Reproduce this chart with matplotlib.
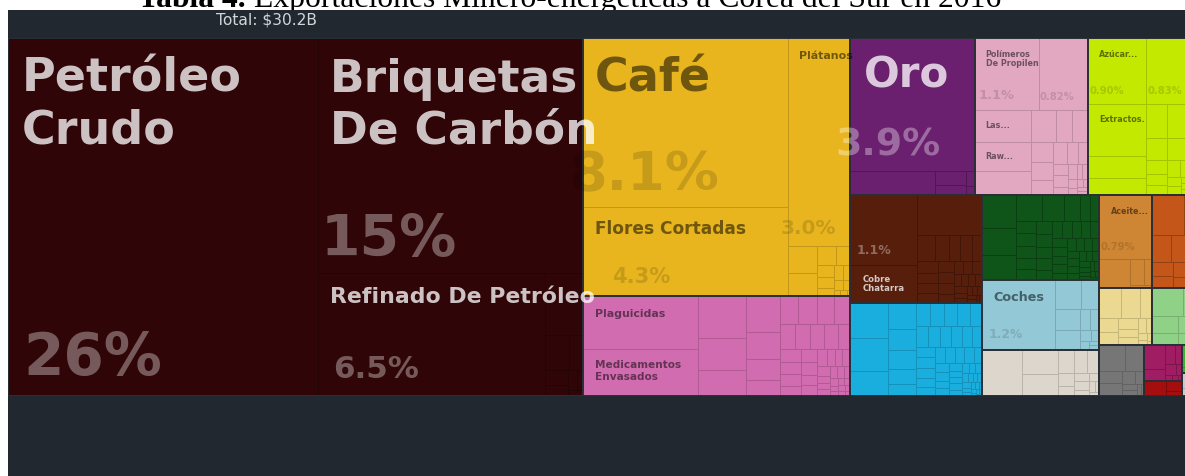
import matplotlib
matplotlib.use("Agg")
import matplotlib.pyplot as plt
from matplotlib.patches import Rectangle
from matplotlib.transforms import Bbox, TransformedBbox
from matplotlib.colors import to_rgb

W, H = 1185, 477
PX = 0.72  # pixels -> points at 100 dpi

# ---------------- data ----------------
titulo_negrita = "Tabla 4."
titulo_resto = "Exportaciones Minero-energéticas a Corea del Sur en 2016"
total_texto = "Total: $30.2B"

sector_claves = ["minerales", "vegetales", "quimicos", "preciosos", "plasticos",
                 "alimentos", "metales", "maquinas", "pieles", "transporte",
                 "piedra", "subproductos", "madera", "papel", "animales",
                 "instrumentos", "textiles", "armas", "calzado", "varios", "arte"]
sector_colores = ["#300507", "#E8B51F", "#D16CB0", "#6A1F6F", "#E2A8C2",
                  "#C3E900", "#571E0C", "#1AAEDE", "#0F5418", "#93C9D7",
                  "#DDD6CC", "#CF8634", "#C5561A", "#EBD991", "#8FD186",
                  "#767676", "#A11D63", "#A50E0E", "#3AB52B", "#C9C9C9", "#A58BC8"]

# product shares (% of total exports), per sector, largest first
minerales = [26.0, 14.6, 6.5, 0.55, 0.2, 0.12, 0.08, 0.06, 0.04, 0.03, 0.02]
vegetales = [8.1, 4.3, 3.0, 0.19, 0.16, 0.085, 0.06, 0.05, 0.04, 0.035, 0.03,
             0.025, 0.02, 0.015, 0.01, 0.01, 0.005]
quimicos = [1.41, 1.28, 0.46, 0.35, 0.29, 0.28, 0.22, 0.16, 0.13, 0.12, 0.115,
            0.11, 0.10, 0.09, 0.09, 0.08, 0.08, 0.07, 0.07, 0.06, 0.06, 0.05,
            0.05, 0.05, 0.04, 0.04, 0.04, 0.03, 0.03, 0.03, 0.03, 0.02, 0.02,
            0.02, 0.02, 0.02, 0.015, 0.015, 0.01, 0.01, 0.01, 0.01, 0.01,
            0.008, 0.006, 0.005]
preciosos = [3.9, 0.48, 0.10, 0.07, 0.03, 0.02]
plasticos = [1.1, 0.82, 0.42, 0.39, 0.32, 0.18, 0.12, 0.12, 0.10, 0.09, 0.08,
             0.07, 0.06, 0.05, 0.04, 0.04, 0.03, 0.03, 0.02, 0.02, 0.02, 0.015,
             0.01, 0.01, 0.01, 0.01]
alimentos = [0.90, 0.83, 0.70, 0.31, 0.23, 0.17, 0.15, 0.11, 0.11, 0.09, 0.08,
             0.07, 0.06, 0.05, 0.05, 0.04, 0.04, 0.03, 0.03, 0.02, 0.02, 0.02,
             0.01, 0.01]
metales = [1.1, 0.6, 0.6, 0.11, 0.08, 0.07, 0.07, 0.06, 0.06, 0.05, 0.05, 0.05,
           0.04, 0.04, 0.04, 0.03, 0.03, 0.03, 0.03, 0.02, 0.02, 0.02, 0.02,
           0.02, 0.015, 0.015, 0.01, 0.01, 0.01, 0.01, 0.008, 0.006, 0.005]
maquinas = [0.31, 0.30, 0.22, 0.17, 0.14, 0.12, 0.10, 0.08, 0.08, 0.075, 0.07,
            0.07, 0.065, 0.06, 0.06, 0.055, 0.05, 0.05, 0.05, 0.045, 0.045,
            0.045, 0.04, 0.04, 0.04, 0.035, 0.035, 0.035, 0.03, 0.03, 0.03,
            0.025, 0.025, 0.025, 0.02, 0.02, 0.02, 0.02, 0.015, 0.015, 0.015,
            0.012, 0.012, 0.01, 0.01, 0.01, 0.008, 0.008, 0.006, 0.006, 0.005,
            0.005, 0.004, 0.004, 0.003, 0.003]
pieles = [0.26, 0.22, 0.20, 0.155, 0.137, 0.097, 0.057, 0.055, 0.055, 0.055,
          0.055, 0.05, 0.05, 0.05, 0.05, 0.045, 0.045, 0.04, 0.04, 0.04, 0.035,
          0.035, 0.035, 0.03, 0.03, 0.03, 0.03, 0.025, 0.025, 0.025, 0.025,
          0.02, 0.02, 0.02, 0.02, 0.02, 0.015, 0.015, 0.015, 0.015, 0.01, 0.01,
          0.01, 0.01, 0.01, 0.008, 0.006, 0.005]
transporte = [1.2, 0.18, 0.12, 0.12, 0.11, 0.05, 0.04, 0.03, 0.02, 0.02, 0.01, 0.01]
piedra = [0.44, 0.20, 0.18, 0.09, 0.07, 0.06, 0.05, 0.04, 0.03, 0.03, 0.02,
          0.02, 0.015, 0.01, 0.01]
subproductos = [0.79, 0.22, 0.08, 0.05, 0.02]
madera = [0.30, 0.15, 0.12, 0.10, 0.08, 0.07, 0.06, 0.05, 0.04, 0.03, 0.02, 0.02, 0.01]
papel = [0.155, 0.127, 0.085, 0.065, 0.055, 0.05, 0.04, 0.035, 0.03, 0.02,
         0.015, 0.01, 0.01, 0.005]
animales = [0.2, 0.11, 0.1, 0.07, 0.05, 0.04, 0.03, 0.02, 0.01]
instrumentos = [0.16, 0.12, 0.07, 0.07, 0.04, 0.03, 0.02, 0.02, 0.01, 0.01]
textiles = [0.12, 0.06, 0.045, 0.03, 0.025, 0.015, 0.01, 0.01, 0.005]
armas = [0.075, 0.035, 0.02]
calzado = [0.055, 0.04, 0.015, 0.01]
varios = [0.04, 0.02]
arte = [0.025, 0.015]

# product names (first products of some sectors)
nombres = {
    "minerales": ["Petróleo\nCrudo", "Briquetas\nDe Carbón", "Refinado De Petróleo"],
    "vegetales": ["Café", "Flores Cortadas", "Plátanos"],
    "quimicos": ["Plaguicidas", "Medicamentos\nEnvasados"],
    "preciosos": ["Oro"],
    "plasticos": ["Polímeros\nDe Propileno", "", "Las...", "Raw..."],
    "alimentos": ["Azúcar...", "", "Extractos."],
    "metales": ["", "Cobre\nChatarra"],
    "transporte": ["Coches"],
    "subproductos": ["Aceite..."],
}

valores = [minerales, vegetales, quimicos, preciosos, plasticos, alimentos,
           metales, maquinas, pieles, transporte, piedra, subproductos, madera,
           papel, animales, instrumentos, textiles, armas, calzado, varios, arte]

# ---------------- label styles (pixel sizes / offsets inside a cell) ----------------
estilos = {
    ("minerales", 0): dict(nfs=46, ndx=14, ndy=53, lsp=51, pfs=58, pdx=15, pdy=22),
    ("minerales", 1): dict(nfs=45.5, ndx=12, ndy=53, lsp=51, pfs=57, pdx=2, pdy=18),
    ("minerales", 2): dict(nfs=22, ndx=12, ndy=29, lsp=0, pfs=31, pdx=15, pdy=19),
    ("vegetales", 0): dict(nfs=46, ndx=12, ndy=53, lsp=0, pfs=54, pdx=-13, pdy=18),
    ("vegetales", 1): dict(nfs=17, ndx=12, ndy=26, lsp=0, pfs=21, pdx=29, pdy=14),
    ("vegetales", 2): dict(nfs=11, ndx=11, ndy=20, lsp=0, pfs=20, pdx=-7, pdy=13),
    ("quimicos", 0): dict(nfs=11, ndx=12, ndy=20, lsp=0, pfs=None),
    ("quimicos", 1): dict(nfs=10.5, ndx=12, ndy=18, lsp=12.5, pfs=None),
    ("preciosos", 0): dict(nfs=42, ndx=14, ndy=48, lsp=0, pfs=38, pdx=-14, pdy=17),
    ("plasticos", 0): dict(nfs=8, ndx=11, ndy=18, lsp=8.5, pfs=13, pdx=4, pdy=12, clip=True),
    ("plasticos", 1): dict(nfs=8, ndx=11, ndy=18, lsp=0, pfs=10, pdx=0, pdy=11),
    ("plasticos", 2): dict(nfs=8, ndx=11, ndy=17, lsp=0, pfs=None),
    ("plasticos", 3): dict(nfs=8, ndx=11, ndy=16, lsp=0, pfs=None),
    ("alimentos", 0): dict(nfs=8, ndx=11, ndy=18, lsp=0, pfs=10, pdx=2, pdy=11),
    ("alimentos", 1): dict(nfs=8, ndx=11, ndy=18, lsp=0, pfs=10, pdx=1, pdy=11),
    ("alimentos", 2): dict(nfs=8, ndx=11, ndy=17, lsp=0, pfs=None),
    ("metales", 0): dict(nfs=8, ndx=7, ndy=16, lsp=0, pfs=12.5, pdx=7, pdy=12),
    ("metales", 1): dict(nfs=8.5, ndx=13, ndy=16, lsp=9.5, pfs=None),
    ("transporte", 0): dict(nfs=12.8, ndx=11, ndy=20, lsp=0, pfs=12.3, pdx=7, pdy=13),
    ("subproductos", 0): dict(nfs=8, ndx=12, ndy=18, lsp=0, pfs=10, pdx=2, pdy=10),
}

ANCHO, ALTO = 1192.0, 358.0   # full treemap (the picture crops its right edge)
PHI = (1 + 5 ** 0.5) / 2


def squarify(vals, x0, y0, x1, y1, ratio=PHI):
    """d3.treemapSquarify"""
    rects = [None] * len(vals)
    n = len(vals)
    i0 = i1 = 0
    value = float(sum(vals))
    while i0 < n:
        dx, dy = x1 - x0, y1 - y0
        sum_v = vals[i1]
        i1 += 1
        min_v = max_v = sum_v
        alpha = max(dy / dx, dx / dy) / (value * ratio)
        beta = sum_v * sum_v * alpha
        min_ratio = max(max_v / beta, beta / min_v)
        while i1 < n:
            v = vals[i1]
            sum_v += v
            min_v = min(min_v, v)
            max_v = max(max_v, v)
            beta = sum_v * sum_v * alpha
            new_ratio = max(max_v / beta, beta / min_v)
            if new_ratio > min_ratio:
                sum_v -= v
                break
            min_ratio = new_ratio
            i1 += 1
        fila = range(i0, i1)
        if dx < dy:
            ny = y0 + dy * sum_v / value if i1 < n else y1
            cx = x0
            for k in fila:
                w = dx * vals[k] / sum_v
                rects[k] = (cx, y0, w, ny - y0)
                cx += w
            y0 = ny
        else:
            nx = x0 + dx * sum_v / value if i1 < n else x1
            cy = y0
            for k in fila:
                h = dy * vals[k] / sum_v
                rects[k] = (x0, cy, nx - x0, h)
                cy += h
            x0 = nx
        value -= sum_v
        i0 = i1
    return rects


def pct(v):
    if v >= 10:
        return f"{v:.0f}%"
    if v >= 1:
        return f"{v:.1f}%"
    return f"{v:.2f}%"


def oscuro(c):
    r, g, b = to_rgb(c)
    return 0.299 * r + 0.587 * g + 0.114 * b < 0.45


def sombra(c, f=0.86):
    r, g, b = to_rgb(c)
    return (r * f, g * f, b * f)


# ---------------- figure ----------------
fig = plt.figure(figsize=(W / 100, H / 100), dpi=100, facecolor="white")

bg = fig.add_axes([0, 0, 1, 1])
bg.set_xlim(0, W)
bg.set_ylim(H, 0)
bg.axis("off")
bg.add_patch(Rectangle((8, 11), W, H, facecolor="#212830", edgecolor="none", zorder=2))
bg.text(266, 20, total_texto, ha="center", va="center", color="#D2D6DA",
        fontsize=15.5 * PX, family="DejaVu Sans", zorder=3)

# title: only its lower part shows, as in the source page
rend = fig.canvas.get_renderer()
t1 = bg.text(138, 7, titulo_negrita, ha="left", va="baseline", fontsize=31.6 * PX,
             family="Liberation Serif", fontweight="bold", color="black", zorder=1)
w1 = t1.get_window_extent(renderer=rend).width
bg.text(138 + w1 + 8, 7, titulo_resto, ha="left", va="baseline", fontsize=31.6 * PX,
        family="Liberation Serif", color="black", zorder=1)

ax = fig.add_axes([8 / W, (H - 397) / H, (W - 8) / W, ALTO / H])
ax.set_xlim(0, W - 8)
ax.set_ylim(ALTO, 0)
ax.axis("off")

totales = [sum(v) for v in valores]
orden = sorted(range(len(valores)), key=lambda i: -totales[i])
rect_sec = squarify([totales[i] for i in orden], 0, 0, ANCHO, ALTO)

celdas = {}
for pos, i in enumerate(orden):
    sx, sy, sw, sh = rect_sec[pos]
    col = sector_colores[i]
    hijos = squarify(valores[i], sx, sy, sx + sw, sy + sh)
    celdas[sector_claves[i]] = hijos
    for (cx, cy, cw, ch) in hijos:
        ax.add_patch(Rectangle((cx, cy), cw, ch, facecolor=col,
                               edgecolor=sombra(col, 0.84 if not oscuro(col) else 0.75),
                               linewidth=0.7))
    ax.add_patch(Rectangle((sx, sy), sw, sh, fill=False, edgecolor="#2A2F36",
                           linewidth=1.4))

for (clave, k), st in estilos.items():
    i = sector_claves.index(clave)
    col = sector_colores[i]
    cx, cy, cw, ch = celdas[clave][k]
    dark = oscuro(col)
    ncol = (1, 1, 1, 0.76) if dark else (0, 0, 0, 0.52)
    pcol = (1, 1, 1, 0.34) if dark else (0, 0, 0, 0.14)
    nombre = nombres.get(clave, [])
    nombre = nombre[k] if k < len(nombre) else ""
    for j, linea in enumerate(nombre.split("\n") if nombre else []):
        t = ax.text(cx + st["ndx"], cy + st["ndy"] + j * st["lsp"], linea,
                    ha="left", va="baseline", fontsize=st["nfs"] * PX,
                    fontweight="bold", family="DejaVu Sans", color=ncol)
        if st.get("clip"):
            t.set_clip_box(TransformedBbox(Bbox.from_bounds(cx, cy, cw, ch), ax.transData))
            t.set_clip_on(True)
    if st["pfs"]:
        ax.text(cx + st["pdx"], cy + ch - st["pdy"], pct(valores[i][k]),
                ha="left", va="baseline", fontsize=st["pfs"] * PX,
                fontweight="bold", family="DejaVu Sans", color=pcol)

fig.savefig("out.png", dpi=100, facecolor="white")
